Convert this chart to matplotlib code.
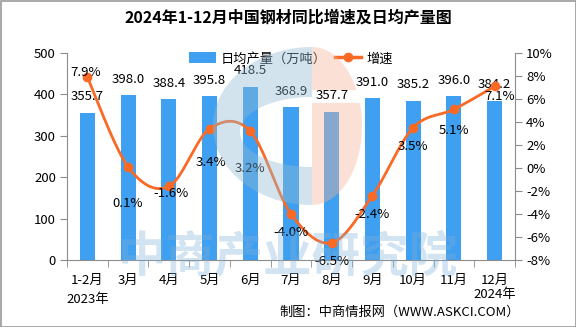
import numpy as np
import matplotlib
matplotlib.use("Agg")
import matplotlib.pyplot as plt
from matplotlib.patches import Polygon, Rectangle

plt.rcParams['font.family'] = ['Noto Sans CJK SC', 'DejaVu Sans']
plt.rcParams['axes.unicode_minus'] = False

# data
months = ['1-2月', '3月', '4月', '5月', '6月', '7月', '8月', '9月', '10月', '11月', '12月']
output = [355.7, 398.0, 388.4, 395.8, 418.5, 368.9, 357.7, 391.0, 385.2, 396.0, 384.2]
growth = [7.9, 0.1, -1.6, 3.4, 3.2, -4.0, -6.5, -2.4, 3.5, 5.1, 7.1]

title = '2024年1-12月中国钢材同比增速及日均产量图'
source = '制图：中商情报网（WWW.ASKCI.COM）'

# label offsets in pixels (dx, dy below point), layout only
growth_offsets = [(-2, 5), (0, -37), (2, -7), (1, -34), (0, -37), (0, -19),
                  (0, -19), (0, -19), (0, -19), (0, -21), (5, -10)]

BAR = '#3f9ff0'
LINE = '#fb6a25'
SPINE = '#8c8c8c'


def catmull_rom(xs, ys, n=24):
    p = np.column_stack([xs, ys]).astype(float)
    p = np.vstack([p[0], p, p[-1]])
    out = []
    for i in range(1, len(p) - 2):
        p0, p1, p2, p3 = p[i - 1], p[i], p[i + 1], p[i + 2]
        t = np.linspace(0, 1, n)[:, None]
        seg = 0.5 * ((2 * p1) + (-p0 + p2) * t + (2 * p0 - 5 * p1 + 4 * p2 - p3) * t ** 2
                     + (-p0 + 3 * p1 - 3 * p2 + p3) * t ** 3)
        out.append(seg)
    out = np.vstack(out)
    return out[:, 0], out[:, 1]


fig = plt.figure(figsize=(5.76, 3.27), dpi=100)
ax = fig.add_axes([67 / 576, 67 / 327, 448 / 576, 207 / 327])
ax2 = ax.twinx()

x = np.arange(len(months))
bars = ax.bar(x, output, width=0.37, color=BAR, zorder=2)
ax.set_xlim(-0.5, len(months) - 0.5)
ax.set_ylim(0, 500)
ax.set_yticks(range(0, 501, 100))

for xi, v in zip(x, output):
    ax.annotate(f'{v:.1f}', (xi, v), xytext=(0, 16), textcoords='offset pixels',
                ha='center', va='center', fontsize=9.5, color='black', zorder=5)

sx, sy = catmull_rom(x, growth)
ax2.plot(sx, sy, color=LINE, lw=2.0, zorder=3)
ax2.plot(x, growth, 'o', color=LINE, ms=6, zorder=4)
ax2.set_ylim(-8, 10)
ax2.set_yticks(range(-8, 11, 2))
ax2.set_yticklabels([f'{v}%' for v in range(-8, 11, 2)])
for xi, v, (dx, dy) in zip(x, growth, growth_offsets):
    ax2.annotate(f'{v:.1f}%', (xi, v), xytext=(dx, dy), textcoords='offset pixels',
                 ha='center', va='center', fontsize=9.5, color='black', zorder=5)

ax.set_xticks(x)
ax.set_xticklabels(months)
ax.set_xticks(np.arange(-0.5, len(months), 1), minor=True)
ax.tick_params(axis='x', which='major', length=0, pad=10, labelsize=9.5)
ax.tick_params(axis='x', which='minor', length=5, color=SPINE, direction='out')
ax.tick_params(axis='y', length=5, color=SPINE, pad=3, labelsize=9.5)
ax2.tick_params(axis='y', length=5, color=SPINE, pad=3, labelsize=9.5)

for a in (ax, ax2):
    a.spines['top'].set_visible(False)
    for s in a.spines.values():
        s.set_color(SPINE)
ax.spines['right'].set_visible(False)
ax2.spines['left'].set_visible(False)
ax2.spines['bottom'].set_visible(False)

ax.text(0, -0.19, '2023年', transform=ax.get_xaxis_transform(), ha='center',
        va='center', fontsize=9.5)
ax.text(len(months) - 1, -0.165, '2024年', transform=ax.get_xaxis_transform(),
        ha='center', va='center', fontsize=9.5)

l1, = ax2.plot([], [], '-o', color=LINE, lw=2.5, ms=6)
ax2.legend([bars, l1], ['日均产量（万吨）', '增速'], loc='upper center',
           bbox_to_anchor=(0.5, 1.06), ncol=2, frameon=False, fontsize=9.5,
           handlelength=2.0, handleheight=0.9, columnspacing=0.6, handletextpad=0.4)

fig.text(0.5, 1 - 18 / 327, title, ha='center', va='center', fontsize=11.5,
         fontweight='bold')
fig.text(520 / 576, 1 - 312 / 327, source, ha='right', va='center', fontsize=9.5)

# watermark overlay (logo + text)
ov = fig.add_axes([0, 0, 1, 1], zorder=10)
ov.set_xlim(0, 576)
ov.set_ylim(327, 0)
ov.axis('off')
ov.patch.set_alpha(0)


def arc(cx, cy, rx, ry, a0, a1, n=60):
    t = np.radians(np.linspace(a0, a1, n))
    return np.column_stack([cx + rx * np.cos(t), cy - ry * np.sin(t)])


cx, cy = 312, 126
# blue "C": outer left half minus an inner ellipse
c_shape = np.vstack([arc(cx, cy, 99, 79, 90, 270),
                     arc(cx, 132, 72, 35, 270, 90)])
ov.add_patch(Polygon(c_shape, closed=True, color='#93bbd4', alpha=0.4, lw=0))
# peach right half, split by a thin white band
top = np.vstack([arc(cx, cy, 50, 79, 27, 90), [[cx, 90]]])
bottom = np.vstack([arc(cx, cy, 50, 79, -90, 17), [[cx, 103]]])
for pts in (top, bottom):
    ov.add_patch(Polygon(pts, closed=True, color='#f5b698', alpha=0.4, lw=0))

ov.text(288, 258, '中商产业研究院', ha='center', va='center', fontsize=35,
        fontweight='bold', color='#7fb0d9', alpha=0.35)
ov.add_patch(Rectangle((0.5, 0.5), 575, 326, fill=False, ec='#999999', lw=1.2))

fig.savefig('out.png', dpi=100)
